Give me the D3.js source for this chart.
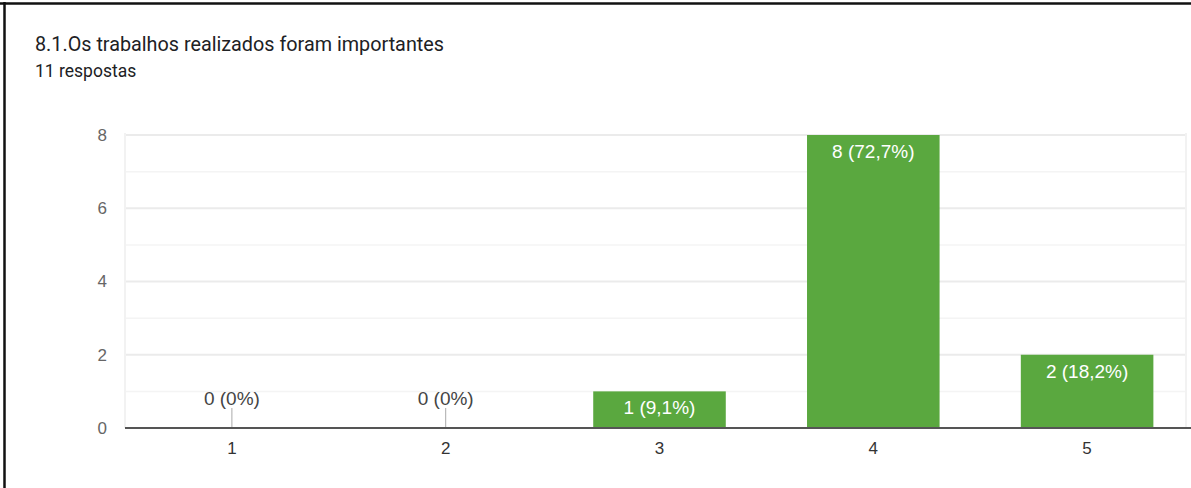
<!DOCTYPE html>
<html>
<head>
<meta charset="utf-8">
<script src="https://cdn.jsdelivr.net/npm/d3@7"></script>
<style>
  body { margin: 0; background: #fff; }
  svg { display: block; font-family: Roboto, Arial, sans-serif; }
</style>
</head>
<body>
<div id="chart"></div>
<script>
// answers for question 8.1
const categories = ["1", "2", "3", "4", "5"];
const counts = [0, 0, 1, 8, 2];
const percents = ["0%", "0%", "9,1%", "72,7%", "18,2%"];
const yTicks = [0, 2, 4, 6, 8];
const minorTicks = [1, 3, 5, 7];

const W = 1191, H = 488;
const margin = { top: 135, right: -3, bottom: 60, left: 125 };
const height = H - margin.top - margin.bottom;
const chartFont = "'Liberation Sans', Arial, sans-serif";

const svg = d3.select("#chart")
    .append("svg")
    .attr("width", W)
    .attr("height", H);

svg.append("rect").attr("width", W).attr("height", H).attr("fill", "#fff");

// frame of the screenshot
svg.append("line").attr("x1", 0).attr("x2", W).attr("y1", 3.5).attr("y2", 3.5)
    .attr("stroke", "#111").attr("stroke-width", 2.5);
svg.append("line").attr("x1", 4.5).attr("x2", 4.5).attr("y1", 2).attr("y2", H)
    .attr("stroke", "#111").attr("stroke-width", 2.5);

// title
svg.append("text")
    .attr("x", 35).attr("y", 51)
    .attr("fill", "#202124")
    .style("font-size", "19.8px")
    .text("8.1.Os trabalhos realizados foram importantes");

svg.append("text")
    .attr("x", 35).attr("y", 77)
    .attr("fill", "#202124")
    .style("font-size", "17.5px")
    .text("11 respostas");

const x = d3.scaleBand()
    .domain(categories)
    .range([margin.left, W - margin.right])
    .paddingInner(0.38)
    .paddingOuter(0.19);

const y = d3.scaleLinear()
    .domain([0, 8])
    .range([margin.top + height, margin.top]);

const g = svg.append("g");

// minor grid
g.selectAll(".minor")
    .data(minorTicks)
    .enter().append("line")
    .attr("x1", margin.left).attr("x2", 1186)
    .attr("y1", d => y(d)).attr("y2", d => y(d))
    .attr("stroke", "#f4f4f4").attr("stroke-width", 1.5);

// major grid
g.selectAll(".major")
    .data(yTicks.slice(1))
    .enter().append("line")
    .attr("x1", margin.left).attr("x2", 1186)
    .attr("y1", d => y(d)).attr("y2", d => y(d))
    .attr("stroke", "#ebebeb").attr("stroke-width", 2);

// light frame lines of plot
g.append("line").attr("x1", margin.left).attr("x2", margin.left)
    .attr("y1", y(8) - 2).attr("y2", y(0))
    .attr("stroke", "#f2f2f2").attr("stroke-width", 2);
g.append("line").attr("x1", 1186).attr("x2", 1186)
    .attr("y1", y(8) - 2).attr("y2", y(0))
    .attr("stroke", "#f2f2f2").attr("stroke-width", 2);

// y labels
const yAxis = svg.append("g")
    .attr("transform", "translate(" + (margin.left - 18) + ",0)")
    .call(d3.axisLeft(y).tickValues(yTicks).tickSize(0).tickPadding(0));
yAxis.select(".domain").remove();
yAxis.selectAll("text")
    .attr("fill", "#666")
    .style("font-size", "17px")
    .style("font-family", chartFont);

// bars
const data = categories.map((c, i) => ({ cat: c, v: counts[i], p: percents[i] }));

svg.selectAll(".bar")
    .data(data.filter(d => d.v > 0))
    .enter().append("rect")
    .attr("x", d => x(d.cat))
    .attr("y", d => y(d.v))
    .attr("width", x.bandwidth())
    .attr("height", d => y(0) - y(d.v))
    .attr("fill", "#5aa83f");

// stubs for empty categories
svg.selectAll(".stub")
    .data(data.filter(d => d.v === 0))
    .enter().append("line")
    .attr("x1", d => x(d.cat) + x.bandwidth() / 2)
    .attr("x2", d => x(d.cat) + x.bandwidth() / 2)
    .attr("y1", y(0) - 20).attr("y2", y(0))
    .attr("stroke", "#aaa").attr("stroke-width", 1);

// value labels
svg.selectAll(".lbl")
    .data(data)
    .enter().append("text")
    .attr("x", d => x(d.cat) + x.bandwidth() / 2)
    .attr("y", d => d.v > 0 ? y(d.v) + 23 : y(0) - 23)
    .attr("text-anchor", "middle")
    .attr("fill", d => d.v > 0 ? "#fff" : "#444")
    .style("font-size", "19px")
    .style("font-family", chartFont)
    .text(d => d.v + " (" + d.p + ")");

// baseline
svg.append("line")
    .attr("x1", margin.left).attr("x2", W)
    .attr("y1", y(0)).attr("y2", y(0))
    .attr("stroke", "#555").attr("stroke-width", 2);

// x labels
const xAxis = svg.append("g")
    .attr("transform", "translate(0," + (y(0) + 14) + ")")
    .call(d3.axisBottom(x).tickSize(0).tickPadding(0));
xAxis.select(".domain").remove();
xAxis.selectAll("text")
    .attr("fill", "#333")
    .style("font-size", "17px")
    .style("font-family", chartFont);
</script>
</body>
</html>
